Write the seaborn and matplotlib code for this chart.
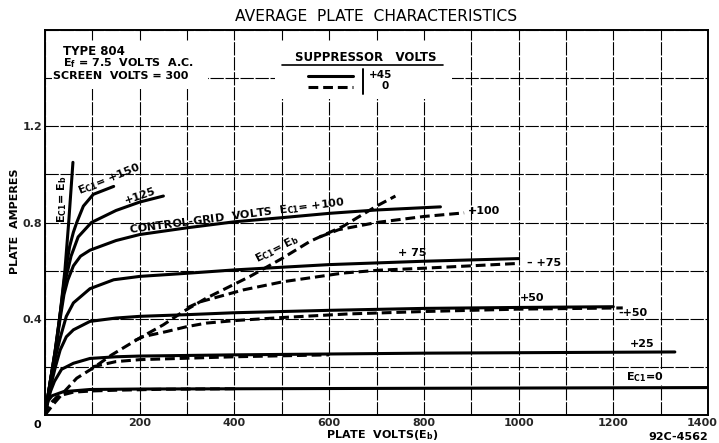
import numpy as np
import pandas as pd
import matplotlib
matplotlib.use("Agg")
import matplotlib.pyplot as plt
import matplotlib.transforms as mtransforms
import seaborn as sns
from matplotlib.patches import Rectangle
from matplotlib.lines import Line2D

# ---------------- data (plate volts, plate amperes) ----------------
# suppressor +45 V (solid)
S_EB_V = [0, 4, 12, 21, 32, 42, 50, 59]
S_EB_A = [0, 0.05, 0.15, 0.24, 0.42, 0.60, 0.80, 1.05]
S150_V = [0, 4, 12, 21, 32, 42, 52, 60, 67, 81, 102, 145]
S150_A = [0, 0.05, 0.15, 0.26, 0.42, 0.58, 0.70, 0.76, 0.80, 0.868, 0.917, 0.95]
S125_V = [0, 4, 12, 21, 32, 42, 55, 70, 98, 150, 200, 250]
S125_A = [0, 0.05, 0.15, 0.26, 0.42, 0.55, 0.66, 0.74, 0.80, 0.85, 0.885, 0.91]
S100_V = [0, 4, 12, 22, 32, 40, 48, 60, 75, 95, 150, 200, 300, 400, 500, 600, 700, 835]
S100_A = [0, 0.05, 0.15, 0.27, 0.40, 0.50, 0.56, 0.62, 0.66, 0.685, 0.725, 0.75, 0.778,
          0.803, 0.82, 0.838, 0.852, 0.865]
S75_V = [0, 4, 12, 22, 32, 45, 60, 95, 145, 200, 300, 400, 600, 800, 1000]
S75_A = [0, 0.05, 0.14, 0.24, 0.32, 0.41, 0.466, 0.525, 0.562, 0.576, 0.589, 0.603,
         0.625, 0.639, 0.65]
S50_V = [0, 4, 12, 22, 32, 45, 60, 95, 150, 200, 300, 400, 600, 800, 1000, 1200]
S50_A = [0, 0.05, 0.12, 0.20, 0.27, 0.325, 0.354, 0.389, 0.403, 0.41, 0.417, 0.425,
         0.435, 0.443, 0.447, 0.45]
S25_V = [0, 5, 12, 20, 35, 60, 95, 150, 200, 400, 800, 1330]
S25_A = [0, 0.05, 0.10, 0.14, 0.19, 0.215, 0.235, 0.242, 0.245, 0.25, 0.257, 0.262]
S0_V = [0, 3, 7, 15, 39, 95, 200, 600, 1000, 1400]
S0_A = [0, 0.03, 0.06, 0.08, 0.097, 0.106, 0.108, 0.11, 0.112, 0.114]

# suppressor 0 V (dashed)
D_EB_V = [0, 20, 42, 67, 102, 141, 200, 250, 292, 341, 391, 433, 500, 560, 630, 700, 740]
D_EB_A = [0, 0.05, 0.10, 0.153, 0.196, 0.25, 0.32, 0.375, 0.43, 0.486, 0.535, 0.576,
          0.65, 0.722, 0.785, 0.868, 0.91]
D100_V = [580, 620, 700, 800, 885]
D100_A = [0.74, 0.77, 0.80, 0.825, 0.84]
D75_V = [300, 327, 419, 503, 630, 707, 800, 1000]
D75_A = [0.445, 0.47, 0.52, 0.554, 0.59, 0.602, 0.61, 0.63]
D50_V = [190, 208, 257, 299, 341, 405, 500, 640, 800, 1000, 1220]
D50_A = [0.31, 0.326, 0.347, 0.367, 0.382, 0.393, 0.405, 0.42, 0.43, 0.44, 0.445]
D25_V = [100, 150, 200, 300, 400, 600]
D25_A = [0.20, 0.222, 0.23, 0.236, 0.242, 0.25]
D0_V = [0, 5, 15, 25, 40, 60, 100, 150, 250, 400]
D0_A = [0, 0.03, 0.055, 0.075, 0.085, 0.095, 0.10, 0.103, 0.107, 0.109]

X_TICKS = [0, 100, 200, 300, 400, 500, 600, 700, 800, 900, 1000, 1100, 1200, 1300, 1400]
X_LABELS = ["", "", "200", "", "400", "", "600", "", "800", "", "1000", "", "1200", "", "1400"]
Y_TICKS = [0, 0.2, 0.4, 0.6, 0.8, 1.0, 1.2, 1.4, 1.6]
Y_LABELS = ["", "", "0.4", "", "0.8", "", "1.2", "", ""]

curves = [
    ("s_eb", "+45", S_EB_V, S_EB_A), ("s150", "+45", S150_V, S150_A),
    ("s125", "+45", S125_V, S125_A), ("s100", "+45", S100_V, S100_A),
    ("s75", "+45", S75_V, S75_A), ("s50", "+45", S50_V, S50_A),
    ("s25", "+45", S25_V, S25_A), ("s0", "+45", S0_V, S0_A),
    ("d_eb", "0", D_EB_V, D_EB_A), ("d100", "0", D100_V, D100_A),
    ("d75", "0", D75_V, D75_A), ("d50", "0", D50_V, D50_A),
    ("d25", "0", D25_V, D25_A), ("d0", "0", D0_V, D0_A),
]
rows = []
for name, sup, vv, aa in curves:
    for v, a in zip(vv, aa):
        rows.append({"curve": name, "suppressor": sup, "volts": v, "amps": a})
df = pd.DataFrame(rows)

# ---------------- style ----------------
sns.set_theme(style="white")
plt.rcParams["font.family"] = ["DejaVu Sans"]
plt.rcParams["mathtext.default"] = "regular"

fig = plt.figure(figsize=(7.19, 4.43), dpi=100)
ax = fig.add_axes([45 / 719, 1 - 415 / 443, (708 - 45) / 719, (415 - 30) / 443])

sns.lineplot(data=df, x="volts", y="amps", units="curve", estimator=None, sort=False,
             style="suppressor", dashes={"+45": "", "0": (3.2, 1.6)},
             color="black", linewidth=2.2, legend=False, ax=ax, zorder=3)

ax.set_xlim(0, 1400)
ax.set_ylim(0, 1.6)
ax.set_xticks(X_TICKS)
ax.set_xticklabels(X_LABELS)
ax.set_yticks(Y_TICKS)
ax.set_yticklabels(Y_LABELS)
ax.tick_params(axis="both", length=0, labelsize=8, pad=2)
for lab in ax.get_xticklabels() + ax.get_yticklabels():
    lab.set_fontweight("bold")
last = ax.get_xticklabels()[-1]
last.set_transform(last.get_transform() + mtransforms.ScaledTranslation(-6 / 100, 0, fig.dpi_scale_trans))
ax.set_axisbelow(True)
ax.grid(True, color="black", linewidth=0.8, linestyle=(0, (12, 1.5)))
ax.set_xlabel("")
ax.set_ylabel("")
for sp in ax.spines.values():
    sp.set_color("black")
    sp.set_linewidth(1.4)

# masks over the grid behind the text block and legend
ax.add_patch(Rectangle((15, 1.354), 330, 0.196, facecolor="white", edgecolor="none", zorder=1))
ax.add_patch(Rectangle((485, 1.3125), 375, 0.2375, facecolor="white", edgecolor="none", zorder=1))

bold = dict(fontweight="bold", color="black", zorder=6)
# info block
ax.text(38, 1.5125, "TYPE 804", fontsize=8.5, va="center", ha="left", **bold)
ax.text(38, 1.4625, "E$_f$ = 7.5  VOLTS  A.C.", fontsize=8, va="center", ha="left", **bold)
ax.text(17, 1.408, "SCREEN  VOLTS = 300", fontsize=8, va="center", ha="left", **bold)

# legend
ax.text(677, 1.4875, "SUPPRESSOR   VOLTS", fontsize=8.5, va="center", ha="center", **bold)
ax.add_line(Line2D([500, 840], [1.454, 1.454], color="black", lw=1.2))
ax.add_line(Line2D([555, 650], [1.41, 1.41], color="black", lw=2.2))
ax.add_line(Line2D([555, 650], [1.3625, 1.3625], color="black", lw=2.2, linestyle=(0, (3.2, 1.6))))
ax.add_line(Line2D([671, 671], [1.333, 1.4375], color="black", lw=1.4))
ax.text(684, 1.413, "+45", fontsize=7.5, va="center", ha="left", **bold)
ax.text(718, 1.366, "0", fontsize=7.5, va="center", ha="center", **bold)

# curve annotations
ax.text(135, 0.98, "E$_{C1}$= +150", fontsize=8, rotation=22, va="center", ha="center", **bold)
ax.text(200, 0.91, "+125", fontsize=8, rotation=19, va="center", ha="center", **bold)
ax.text(405, 0.825, "CONTROL-GRID  VOLTS  E$_{C1}$= +100", fontsize=8, rotation=7.4,
        va="center", ha="center", **bold)
ax.text(36, 0.896, "E$_{C1}$= E$_b$", fontsize=8, rotation=90, va="center", ha="center", **bold)
ax.text(490, 0.6875, "E$_{C1}$= E$_b$", fontsize=8, rotation=27, va="center", ha="center", **bold)
ax.text(893, 0.846, "+100", fontsize=8, va="center", ha="left", **bold)
ax.text(775, 0.675, "+ 75", fontsize=8, va="center", ha="center", **bold)
ax.text(1018, 0.633, "– +75", fontsize=8, va="center", ha="left", **bold)
ax.text(1028, 0.4875, "+50", fontsize=8, va="center", ha="center", **bold)
ax.text(1210, 0.425, "-+50", fontsize=8, va="center", ha="left", **bold)
ax.text(1260, 0.296, "+25", fontsize=8, va="center", ha="center",
        bbox=dict(facecolor="white", edgecolor="none", pad=0.5), **bold)
ax.text(1267, 0.158, "E$_{C1}$=0", fontsize=8, va="center", ha="center",
        bbox=dict(facecolor="white", edgecolor="none", pad=0.5), **bold)

# corner zero
ax.text(-0.006, -0.012, "0", transform=ax.transAxes, fontsize=8, ha="right", va="top", **bold)

# titles / axis labels
fig.text(0.5236, 0.962, "AVERAGE  PLATE  CHARACTERISTICS", fontsize=11.2, ha="center",
         va="center", color="black")
fig.text(0.531, 0.018, "PLATE  VOLTS(E$_b$)", fontsize=8, ha="center", va="center",
         fontweight="bold", color="black")
fig.text(0.021, 0.5, "PLATE  AMPERES", fontsize=8, rotation=90, ha="center", va="center",
         fontweight="bold", color="black")
fig.text(0.985, 0.0135, "92C-4562", fontsize=8, ha="right", va="center",
         fontweight="bold", color="black")

fig.savefig("out.png", dpi=100, facecolor="white")
